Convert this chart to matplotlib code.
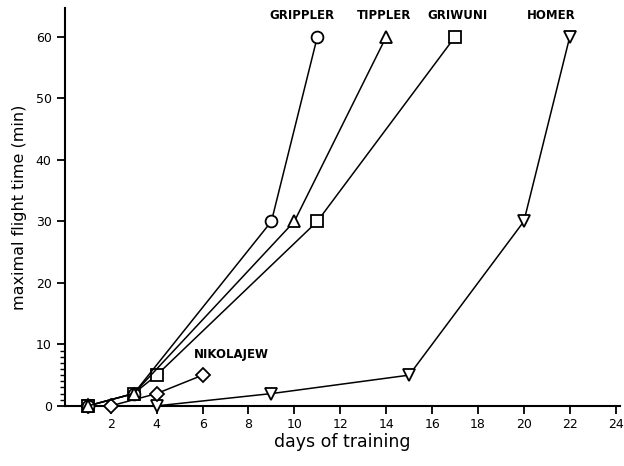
import matplotlib.pyplot as plt
from matplotlib.ticker import FixedLocator

# days of training / maximal flight time (min) for each bird
grippler_days = [1, 3, 9, 11]
grippler_time = [0, 2, 30, 60]

tippler_days = [1, 3, 10, 14]
tippler_time = [0, 2, 30, 60]

griwuni_days = [1, 3, 4, 11, 17]
griwuni_time = [0, 2, 5, 30, 60]

homer_days = [1, 4, 9, 15, 20, 22]
homer_time = [0, 0, 2, 5, 30, 60]

nikolajew_days = [1, 2, 4, 6]
nikolajew_time = [0, 0, 2, 5]

x_ticks = [2, 4, 6, 8, 10, 12, 14, 16, 18, 20, 22, 24]
y_ticks = [0, 10, 20, 30, 40, 50, 60]
y_minor = [1, 2, 3, 4, 5, 6, 7, 8, 9]

plt.rcParams['font.family'] = ['DejaVu Sans']

fig = plt.figure(figsize=(6.24, 4.66), dpi=100)
ax = fig.add_axes([0.104, 0.129, 0.89, 0.854])

style = dict(color='black', linewidth=1.1, markerfacecolor='white',
             markeredgecolor='black', markeredgewidth=1.3, clip_on=False)

ax.plot(homer_days, homer_time, marker='v', markersize=9, zorder=3, **style)
ax.plot(nikolajew_days, nikolajew_time, marker='D', markersize=7, zorder=3, **style)
ax.plot(griwuni_days, griwuni_time, marker='s', markersize=8, zorder=4, **style)
ax.plot(grippler_days, grippler_time, marker='o', markersize=8.5, zorder=5, **style)
ax.plot(tippler_days, tippler_time, marker='^', markersize=9, zorder=6, **style)

# names of the birds
lab = dict(fontsize=8.5, fontweight='bold', ha='center', va='center')
ax.text(10.35, 63.4, 'GRIPPLER', **lab)
ax.text(13.9, 63.4, 'TIPPLER', **lab)
ax.text(17.1, 63.4, 'GRIWUNI', **lab)
ax.text(21.2, 63.4, 'HOMER', **lab)
ax.text(7.25, 8.3, 'NIKOLAJEW', **lab)

ax.set_xlim(0, 24.2)
ax.set_ylim(0, 64.7)
ax.set_xticks(x_ticks)
ax.set_yticks(y_ticks)
ax.yaxis.set_minor_locator(FixedLocator(y_minor))

for s in ['top', 'right']:
    ax.spines[s].set_visible(False)
ax.spines['left'].set_linewidth(1.5)
ax.spines['bottom'].set_linewidth(1.5)

ax.tick_params(axis='both', direction='out', length=6, width=1.3, labelsize=9)
ax.tick_params(axis='y', which='minor', direction='out', length=3.5, width=1)
ax.tick_params(axis='x', pad=3)

ax.set_xlabel('days of training', fontsize=12.5, labelpad=1)
ax.set_ylabel('maximal flight time (min)', fontsize=11.5, labelpad=6)

fig.savefig('out.png', dpi=100)
